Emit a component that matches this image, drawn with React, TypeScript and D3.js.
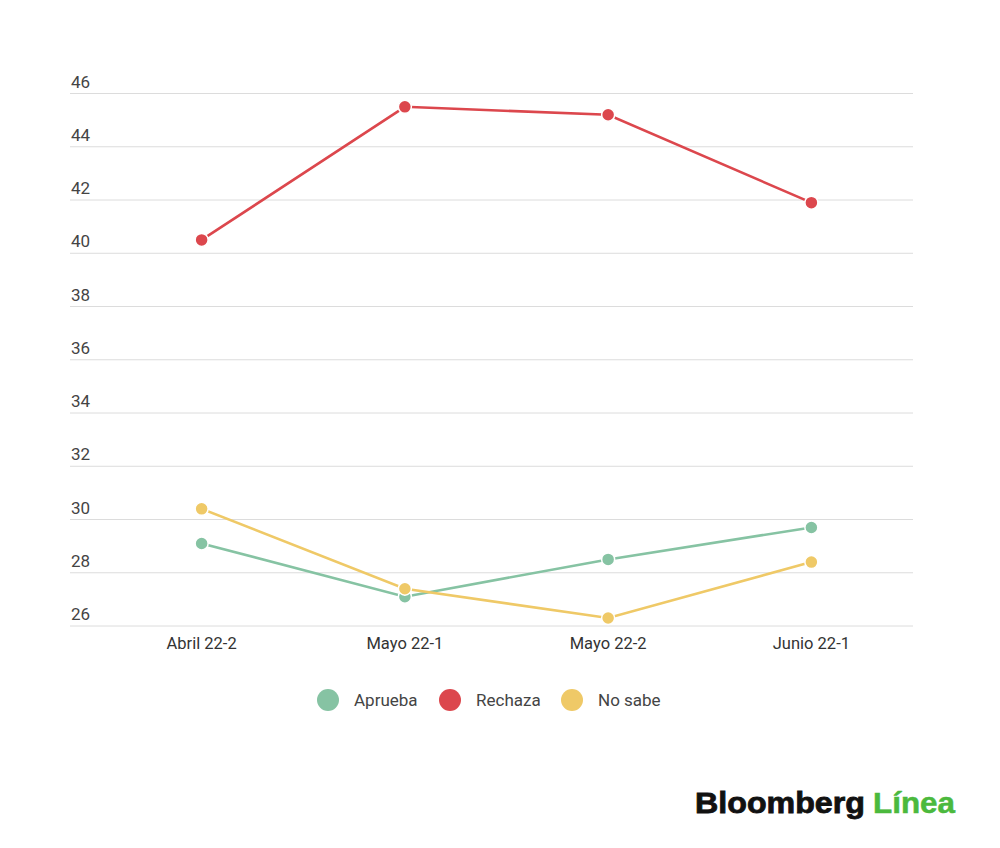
import React, { useEffect, useRef } from "react";
import * as d3 from "d3";

const categories = ["Abril 22-2", "Mayo 22-1", "Mayo 22-2", "Junio 22-1"];
const aprueba = [29.1, 27.1, 28.5, 29.7];
const rechaza = [40.5, 45.5, 45.2, 41.9];
const noSabe = [30.4, 27.4, 26.3, 28.4];
const yTicks = [26, 28, 30, 32, 34, 36, 38, 40, 42, 44, 46];

const seriesNames = ["Aprueba", "Rechaza", "No sabe"];
const seriesColors = ["#86c3a3", "#dc474d", "#efc967"];
const seriesValues = [aprueba, rechaza, noSabe];

const App: React.FC = () => {
  const svgRef = useRef<SVGSVGElement>(null);

  useEffect(() => {
    if (!svgRef.current) return;
    const width = 1000;
    const height = 848;
    const font = "Roboto, 'Noto Sans', sans-serif";
    const logoFont = "'Liberation Sans', Arial, sans-serif";

    const svg = d3.select(svgRef.current);
    svg.selectAll("*").remove();
    svg.attr("width", width).attr("height", height);

    svg.append("rect").attr("width", width).attr("height", height).attr("fill", "#fff");

    const x = d3.scalePoint<string>().domain(categories).range([100, 913]).padding(0.5);
    const y = d3.scaleLinear().domain([26, 46]).range([626, 93.5]);

    // grid + y labels
    const grid = svg.append("g");
    grid
      .selectAll("line")
      .data(yTicks)
      .join("line")
      .attr("x1", 70)
      .attr("x2", 913)
      .attr("y1", (d) => y(d))
      .attr("y2", (d) => y(d))
      .attr("stroke", "#dcdcdc")
      .attr("stroke-width", 1);
    grid
      .selectAll("text")
      .data(yTicks)
      .join("text")
      .attr("x", 71)
      .attr("y", (d) => y(d) - 6)
      .attr("font-family", font)
      .attr("font-size", 17)
      .attr("fill", "#444")
      .text((d) => d);

    // x labels
    svg
      .append("g")
      .selectAll("text")
      .data(categories)
      .join("text")
      .attr("x", (d) => x(d) || 0)
      .attr("y", 649)
      .attr("text-anchor", "middle")
      .attr("font-family", font)
      .attr("font-size", 16.5)
      .attr("fill", "#333")
      .text((d) => d);

    const line = d3
      .line<number>()
      .x((_, i) => x(categories[i]) || 0)
      .y((d) => y(d));

    seriesValues.forEach((vals, s) => {
      const g = svg.append("g");
      g.append("path")
        .datum(vals)
        .attr("fill", "none")
        .attr("stroke", seriesColors[s])
        .attr("stroke-width", 2.6)
        .attr("d", line);
      g.selectAll("circle")
        .data(vals)
        .join("circle")
        .attr("cx", (_, i) => x(categories[i]) || 0)
        .attr("cy", (d) => y(d))
        .attr("r", 6.5)
        .attr("fill", seriesColors[s])
        .attr("stroke", "#fff")
        .attr("stroke-width", 1.5);
    });

    // legend
    const legendX = [328, 450, 572];
    const legend = svg.append("g");
    seriesNames.forEach((name, i) => {
      legend
        .append("circle")
        .attr("cx", legendX[i])
        .attr("cy", 700)
        .attr("r", 11)
        .attr("fill", seriesColors[i]);
      legend
        .append("text")
        .attr("x", legendX[i] + 26)
        .attr("y", 706)
        .attr("font-family", font)
        .attr("font-size", 17)
        .attr("fill", "#444")
        .text(name);
    });

    // logo
    svg
      .append("text")
      .attr("x", 695)
      .attr("y", 813)
      .attr("font-family", logoFont)
      .attr("font-weight", "bold")
      .attr("font-size", 29)
      .attr("textLength", 170)
      .attr("lengthAdjust", "spacingAndGlyphs")
      .attr("fill", "#111")
      .attr("stroke", "#111")
      .attr("stroke-width", 0.8)
      .text("Bloomberg");
    svg
      .append("text")
      .attr("x", 873)
      .attr("y", 813)
      .attr("font-family", logoFont)
      .attr("font-weight", "bold")
      .attr("font-size", 29)
      .attr("textLength", 82)
      .attr("lengthAdjust", "spacingAndGlyphs")
      .attr("fill", "#4bb93d")
      .attr("stroke", "#4bb93d")
      .attr("stroke-width", 0.5)
      .text("Línea");
  }, []);

  return (
    <>
      <style>{"body{margin:0}"}</style>
      <svg ref={svgRef} style={{ display: "block" }} />
    </>
  );
};

export default App;
